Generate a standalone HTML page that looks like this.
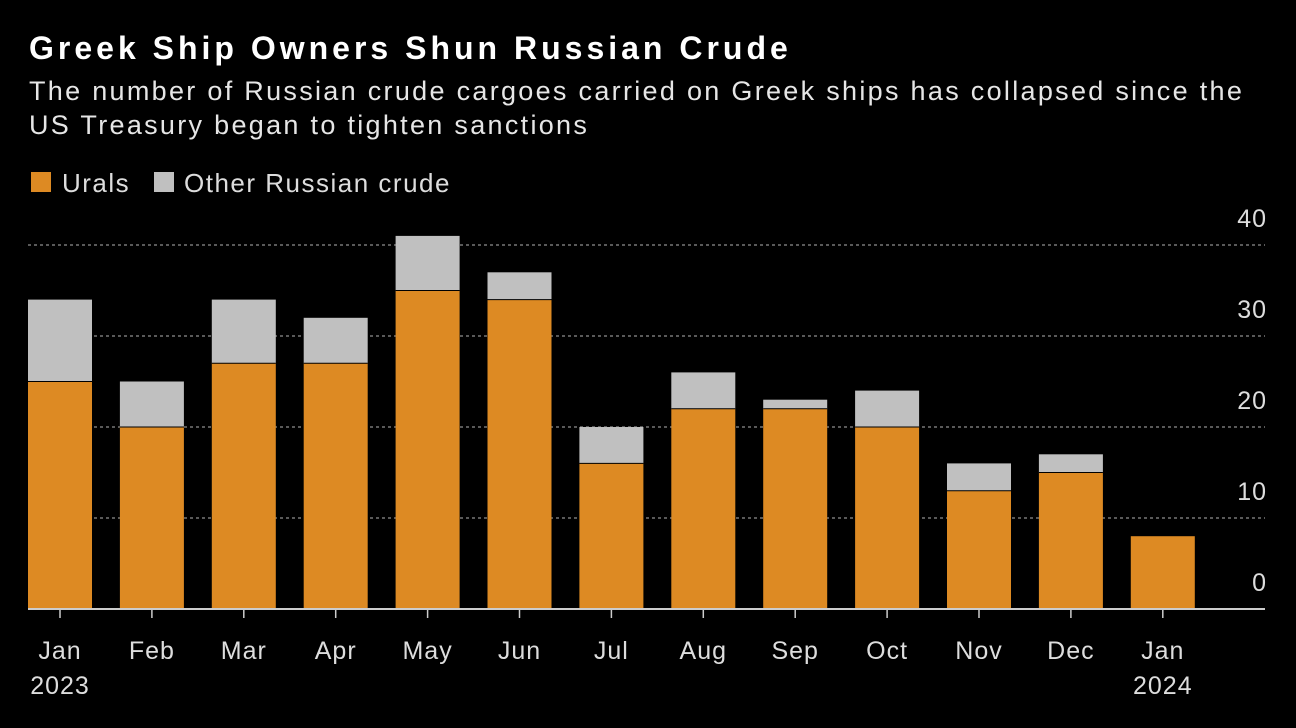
<!DOCTYPE html>
<html><head><meta charset="utf-8"><style>
body{margin:0;background:#000;width:1296px;height:728px;overflow:hidden;font-family:"Liberation Sans",sans-serif;color:#e6e6e6}
#t{position:absolute;left:29px;top:30px;font-size:32px;font-weight:bold;color:#fff;letter-spacing:4px;white-space:nowrap}
#s{position:absolute;left:29px;top:74px;font-size:27px;line-height:34px;color:#e6e6e6;letter-spacing:2.3px;white-space:nowrap}
.lg{position:absolute;top:168px;font-size:26px;color:#ddd;letter-spacing:1.5px}
.sw{position:absolute;top:172px;width:20px;height:20px}
</style></head><body>
<div id="t">Greek Ship Owners Shun Russian Crude</div>
<div id="s">The number of Russian crude cargoes carried on Greek ships has collapsed since the<br>US Treasury began to tighten sanctions</div>
<div class="sw" style="left:31px;background:#dd8a23"></div>
<div class="lg" style="left:62px">Urals</div>
<div class="sw" style="left:154px;background:#c0c0c0"></div>
<div class="lg" style="left:184px">Other Russian crude</div>
<svg id="c" width="1296" height="728" style="position:absolute;left:0;top:0"></svg>
<script>
const months=["Jan","Feb","Mar","Apr","May","Jun","Jul","Aug","Sep","Oct","Nov","Dec","Jan"];
const years=["2023","","","","","","","","","","","","2024"];
const urals=[25,20,27,27,35,34,16,22,22,20,13,15,8];
const other=[9,5,7,5,6,3,4,4,1,4,3,2,0];
const yTicks=[0,10,20,30,40];
const svg=document.getElementById('c');const NS='http://www.w3.org/2000/svg';
const y0=609,k=9.1,left=28,right=1265,step=91.9,first=60,bw=64;
const y=v=>y0-v*k, x=i=>first+i*step;
function mk(t,a){const e=document.createElementNS(NS,t);for(const n in a)e.setAttribute(n,a[n]);svg.appendChild(e);return e;}
yTicks.forEach(v=>{
 if(v>0){const g=mk('line',{x1:left,x2:right,y1:y(v),y2:y(v),stroke:'#777','stroke-width':1.5,'stroke-dasharray':'3,3'});
 
 }
 const t=mk('text',{x:1267,y:y(v)-18,'text-anchor':'end','font-size':25,fill:'#ddd','letter-spacing':1});t.textContent=v;
 
 
});
months.forEach((m,i)=>{
 const cx=x(i);
 const r1=mk('rect',{x:cx-bw/2,y:y(urals[i]),width:bw,height:urals[i]*k,fill:'#dd8a23'});
 
 
 if(other[i]>0){const r2=mk('rect',{x:cx-bw/2,y:y(urals[i]+other[i]),width:bw,height:other[i]*k,fill:'#c0c0c0'});
 
 
 mk('line',{x1:cx-bw/2,x2:cx+bw/2,y1:y(urals[i]),y2:y(urals[i]),stroke:'#000','stroke-width':1});}
 mk('line',{x1:cx,x2:cx,y1:y0,y2:y0+9,stroke:'#ccc','stroke-width':1.5});
 const t=mk('text',{x:cx,y:659,'text-anchor':'middle','font-size':25,fill:'#ddd','letter-spacing':1});t.textContent=m;
 
 
 if(years[i]){const t2=mk('text',{x:cx,y:694,'text-anchor':'middle','font-size':25,fill:'#ddd','letter-spacing':1});t2.textContent=years[i];
 
 }
});
const b=mk('line',{x1:left,x2:right,y1:y0,y2:y0,stroke:'#ccc','stroke-width':2});


</script>
</body></html>
